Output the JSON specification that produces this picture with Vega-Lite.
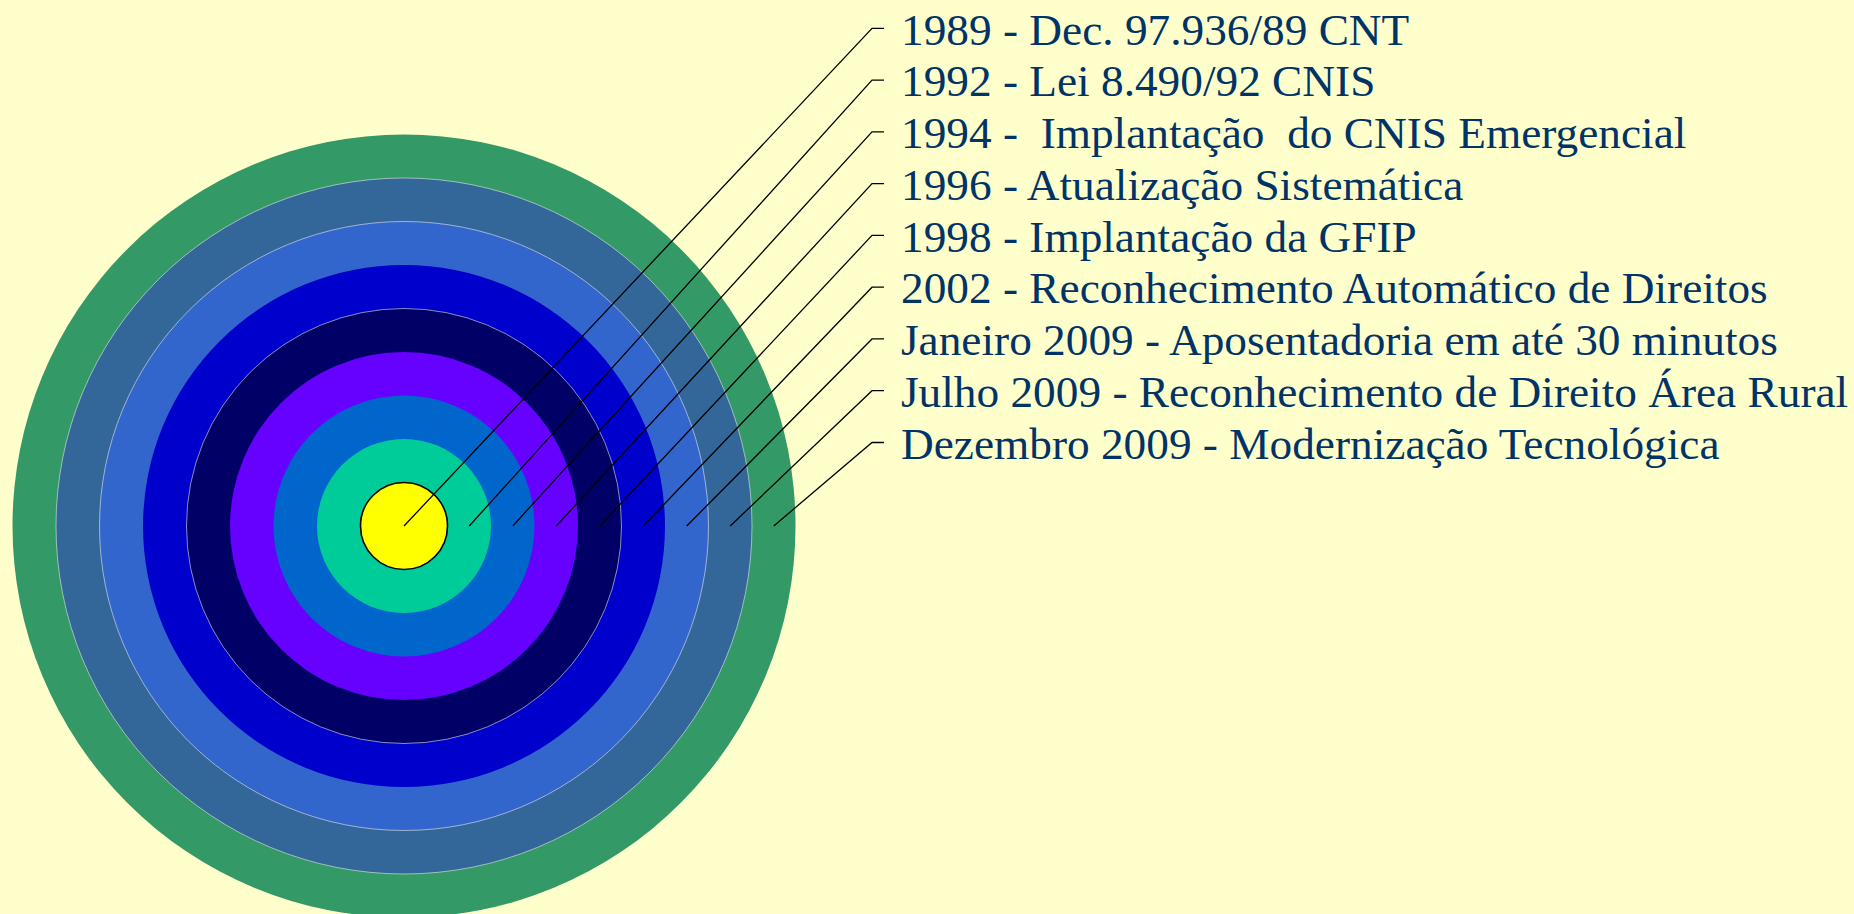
{
  "$schema": "https://vega.github.io/schema/vega-lite/v6.json",
  "width": 1854,
  "height": 914,
  "padding": 0,
  "autosize": {"type": "none"},
  "background": "#FFFFCC",
  "config": {"view": {"stroke": null}},
  "datasets": {
    "rings": [
      {"ring": 9, "r": 9, "cx": 0, "cy": 0},
      {"ring": 8, "r": 8, "cx": 0, "cy": 0},
      {"ring": 7, "r": 7, "cx": 0, "cy": 0},
      {"ring": 6, "r": 6, "cx": 0, "cy": 0},
      {"ring": 5, "r": 5, "cx": 0, "cy": 0},
      {"ring": 4, "r": 4, "cx": 0, "cy": 0},
      {"ring": 3, "r": 3, "cx": 0, "cy": 0},
      {"ring": 2, "r": 2, "cx": 0, "cy": 0},
      {"ring": 1, "r": 1, "cx": 0, "cy": 0}
    ],
    "leaders": [
      {"ring": 1, "seq": 1, "x": 0, "y": 0},
      {"ring": 1, "seq": 2, "x": 10.759, "y": 11.44},
      {"ring": 1, "seq": 3, "x": 11.034, "y": 11.44},
      {"ring": 2, "seq": 1, "x": 1.5, "y": 0},
      {"ring": 2, "seq": 2, "x": 10.759, "y": 10.25},
      {"ring": 2, "seq": 3, "x": 11.034, "y": 10.25},
      {"ring": 3, "seq": 1, "x": 2.5, "y": 0},
      {"ring": 3, "seq": 2, "x": 10.759, "y": 9.06},
      {"ring": 3, "seq": 3, "x": 11.034, "y": 9.06},
      {"ring": 4, "seq": 1, "x": 3.5, "y": 0},
      {"ring": 4, "seq": 2, "x": 10.759, "y": 7.87},
      {"ring": 4, "seq": 3, "x": 11.034, "y": 7.87},
      {"ring": 5, "seq": 1, "x": 4.5, "y": 0},
      {"ring": 5, "seq": 2, "x": 10.759, "y": 6.68},
      {"ring": 5, "seq": 3, "x": 11.034, "y": 6.68},
      {"ring": 6, "seq": 1, "x": 5.5, "y": 0},
      {"ring": 6, "seq": 2, "x": 10.759, "y": 5.49},
      {"ring": 6, "seq": 3, "x": 11.034, "y": 5.49},
      {"ring": 7, "seq": 1, "x": 6.5, "y": 0},
      {"ring": 7, "seq": 2, "x": 10.759, "y": 4.30},
      {"ring": 7, "seq": 3, "x": 11.034, "y": 4.30},
      {"ring": 8, "seq": 1, "x": 7.5, "y": 0},
      {"ring": 8, "seq": 2, "x": 10.759, "y": 3.11},
      {"ring": 8, "seq": 3, "x": 11.034, "y": 3.11},
      {"ring": 9, "seq": 1, "x": 8.5, "y": 0},
      {"ring": 9, "seq": 2, "x": 10.759, "y": 1.92},
      {"ring": 9, "seq": 3, "x": 11.034, "y": 1.92}
    ],
    "labels": [
      {"ring": 1, "x": 11.425, "y": 11.44, "label": "1989 - Dec. 97.936/89 CNT"},
      {"ring": 2, "x": 11.425, "y": 10.25, "label": "1992 - Lei 8.490/92 CNIS"},
      {"ring": 3, "x": 11.425, "y": 9.06, "label": "1994 - \u00a0Implantação \u00a0do CNIS Emergencial"},
      {"ring": 4, "x": 11.425, "y": 7.87, "label": "1996 - Atualização Sistemática"},
      {"ring": 5, "x": 11.425, "y": 6.68, "label": "1998 - Implantação da GFIP"},
      {"ring": 6, "x": 11.425, "y": 5.49, "label": "2002 - Reconhecimento Automático de Direitos"},
      {"ring": 7, "x": 11.425, "y": 4.30, "label": "Janeiro 2009 - Aposentadoria em até 30 minutos"},
      {"ring": 8, "x": 11.425, "y": 3.11, "label": "Julho 2009 - Reconhecimento de Direito Área Rural"},
      {"ring": 9, "x": 11.425, "y": 1.92, "label": "Dezembro 2009 - Modernização Tecnológica"}
    ]
  },
  "layer": [
    {
      "data": {"name": "rings"},
      "mark": {"type": "point", "shape": "circle", "filled": true, "opacity": 1},
      "encoding": {
        "x": {"field": "cx", "type": "quantitative", "scale": {"domain": [-9.28736, 33.33333], "nice": false, "zero": false}, "axis": null},
        "y": {"field": "cy", "type": "quantitative", "scale": {"domain": [-8.91954, 12.09195], "nice": false, "zero": false}, "axis": null},
        "size": {"field": "r", "type": "quantitative", "scale": {"type": "pow", "exponent": 2, "domain": [0, 9], "range": [0, 613089]}, "legend": null},
        "color": {"field": "ring", "type": "ordinal", "scale": {"domain": [1, 2, 3, 4, 5, 6, 7, 8, 9], "range": ["#FFFF00", "#00CC99", "#0066CC", "#6600FF", "#000066", "#0000CC", "#3366CC", "#336699", "#339966"]}, "legend": null},
        "stroke": {"condition": {"test": "datum.ring === 1", "value": "#000000"}, "value": "#E8E8E8"},
        "strokeWidth": {"condition": {"test": "datum.ring === 1", "value": 1.6}, "value": 0.6},
        "strokeOpacity": {"condition": {"test": "datum.ring === 1 || datum.ring === 5 || datum.ring === 7 || datum.ring === 8", "value": 1}, "value": 0}
      }
    },
    {
      "data": {"name": "leaders"},
      "mark": {"type": "line", "color": "#000000", "strokeWidth": 1.3},
      "encoding": {
        "x": {"field": "x", "type": "quantitative"},
        "y": {"field": "y", "type": "quantitative"},
        "detail": {"field": "ring", "type": "nominal"},
        "order": {"field": "seq", "type": "quantitative"}
      }
    },
    {
      "data": {"name": "labels"},
      "mark": {"type": "text", "align": "left", "baseline": "alphabetic", "dy": 16.3, "font": "Liberation Serif", "fontSize": 45.3, "color": "#003366"},
      "encoding": {
        "x": {"field": "x", "type": "quantitative"},
        "y": {"field": "y", "type": "quantitative"},
        "text": {"field": "label", "type": "nominal"}
      }
    }
  ]
}
